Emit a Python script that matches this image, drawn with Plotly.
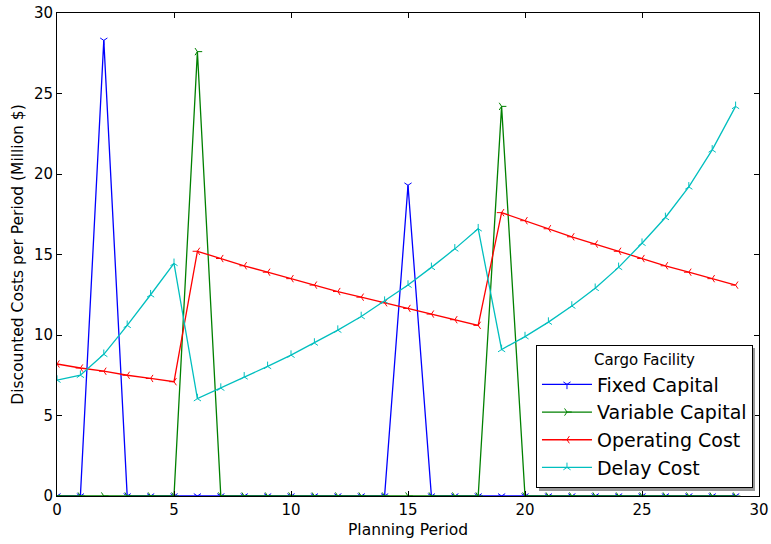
import plotly.graph_objects as go

periods = list(range(30))
fixed_capital = [0, 0, 28.3, 0, 0, 0, 0, 0, 0, 0, 0, 0, 0, 0, 0,
                 19.3, 0, 0, 0, 0, 0, 0, 0, 0, 0, 0, 0, 0, 0, 0]
variable_capital = [0, 0, 0, 0, 0, 0, 27.6, 0, 0, 0, 0, 0, 0, 0, 0,
                    0, 0, 0, 0, 24.2, 0, 0, 0, 0, 0, 0, 0, 0, 0, 0]
operating_cost = [8.2, 7.95, 7.75, 7.5, 7.3, 7.1, 15.2, 14.75, 14.3, 13.9,
                  13.5, 13.1, 12.7, 12.35, 12.0, 11.65, 11.3, 10.95, 10.6, 17.6,
                  17.1, 16.6, 16.1, 15.65, 15.2, 14.75, 14.3, 13.9, 13.5, 13.1]
delay_cost = [7.2, 7.5, 8.8, 10.6, 12.5, 14.45, 6.05, 6.7, 7.4, 8.05,
              8.75, 9.5, 10.3, 11.15, 12.1, 13.1, 14.2, 15.35, 16.6, 9.1,
              9.9, 10.8, 11.8, 12.9, 14.2, 15.7, 17.3, 19.2, 21.5, 24.2]

series = [
    ("Fixed Capital", fixed_capital, "#0000ff", "y-down-open"),
    ("Variable Capital", variable_capital, "#008000", "y-right-open"),
    ("Operating Cost", operating_cost, "#ff0000", "y-left-open"),
    ("Delay Cost", delay_cost, "#00bfbf", "y-up-open"),
]

fig = go.Figure()
for name, vals, color, sym in series:
    fig.add_trace(go.Scatter(
        x=periods, y=vals, name=name, mode="lines+markers",
        line=dict(color=color, width=1.3),
        marker=dict(symbol=sym, size=6, color=color, line=dict(color=color, width=1)),
    ))

font = "DejaVu Sans, sans-serif"
axis_common = dict(
    range=[0, 30], dtick=5, tick0=0, ticks="inside", ticklen=5, tickcolor="black",
    showline=True, linecolor="black", linewidth=1, mirror="allticks",
    showgrid=False, zeroline=False, automargin=False,
    tickfont=dict(family=font, size=15, color="black"),
)
fig.update_layout(
    width=771, height=544,
    margin=dict(l=57, r=12, t=13, b=48),
    paper_bgcolor="white", plot_bgcolor="white",
    font=dict(family=font, color="black"),
    xaxis=dict(title=dict(text="Planning Period", font=dict(size=15.5), standoff=6), **axis_common),
    yaxis=dict(title=dict(text="Discounted Costs per Period (Million $)", font=dict(size=15.5), standoff=6), **axis_common),
    legend=dict(
        title=dict(text="Cargo Facility", font=dict(size=15), side="top center"),
        x=0.6823, y=0.0166, xanchor="left", yanchor="bottom",
        bgcolor="white", bordercolor="black", borderwidth=1,
        font=dict(size=19), tracegroupgap=0, itemwidth=50,
    ),
    showlegend=True,
)
# legend shadow
fig.add_shape(type="rect", xref="paper", yref="paper",
              x0=0.6866, x1=0.9943, y0=0.0104, y1=0.3064,
              fillcolor="#999999", line=dict(width=0), layer="above")
fig.write_html("out.html")
